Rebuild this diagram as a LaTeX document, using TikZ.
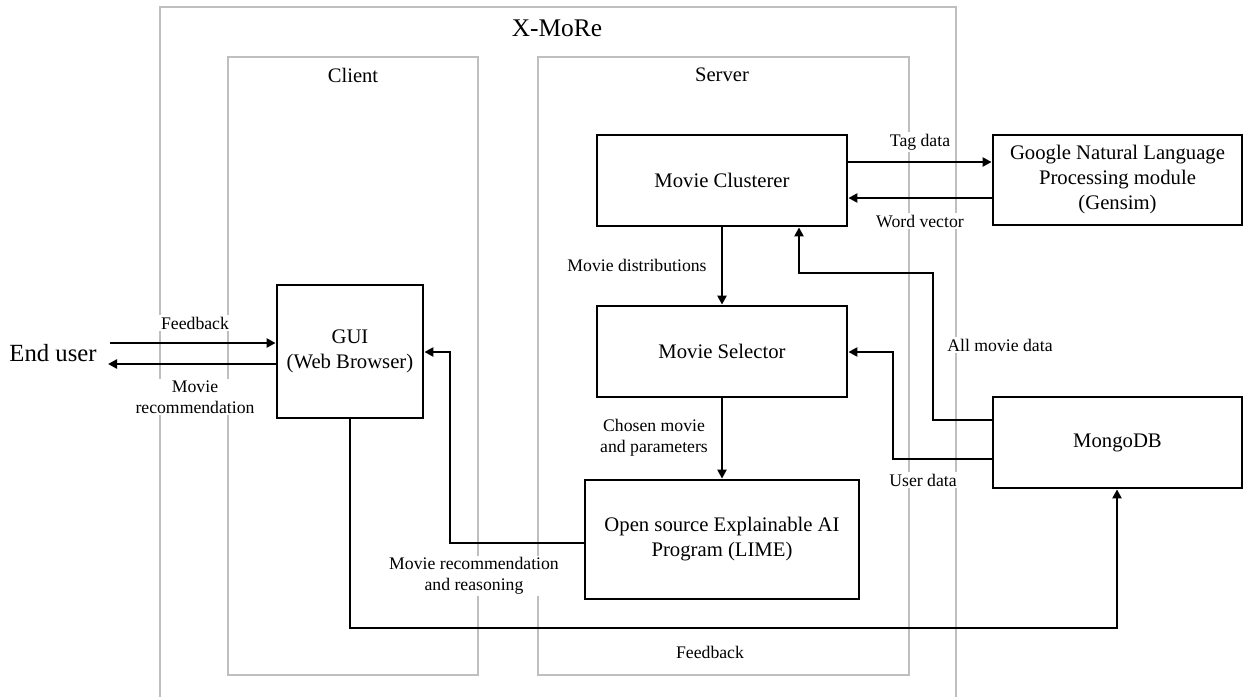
\documentclass[tikz,border=0pt]{standalone}
\usepackage{fontspec}
\setmainfont{Liberation Serif}
\usetikzlibrary{arrows.meta}
\begin{document}
\begin{tikzpicture}[x=1pt,y=-1pt,
  grp/.style={draw=black!25, line width=1.3pt},
  blk/.style={draw=black, line width=2.8pt, fill=white, align=center, inner sep=0pt, font=\fontsize{20.7}{25}\selectfont},
  arr/.style={line width=2.8pt, -{Triangle[length=9pt,width=9pt]}},
  lbl/.style={fill=white, inner sep=2pt, align=center, font=\fontsize{17.7}{20.5}\selectfont},
  ttl/.style={font=\fontsize{20.6}{24}\selectfont}]
\useasboundingbox (0,0) rectangle (1247,697);
% groups
\draw[grp] (160,697) -- (160,7) -- (956,7) -- (956,697);
\draw[grp] (228,57) rectangle (478,675);
\draw[grp] (538,57) rectangle (909,675);
\node[font=\fontsize{25.4}{30}\selectfont] (xmore) at (557,28) {X-MoRe};
\node[ttl] (client) at (353,75) {Client};
\node[ttl] (server) at (722,75) {Server};
\node[font=\fontsize{24.7}{30}\selectfont] (eu) at (53,353) {End user};
% boxes
\node[blk, minimum width=146pt, minimum height=133pt] (gui) at (350,351.5) {GUI\\(Web Browser)};
\node[blk, minimum width=250pt, minimum height=91pt] (clus) at (722,180.5) {Movie Clusterer};
\node[blk, minimum width=249pt, minimum height=90pt] (nlp) at (1117.5,180) {Google Natural Language\\Processing module\\(Gensim)};
\node[blk, minimum width=250pt, minimum height=91pt] (sel) at (722,351.5) {Movie Selector};
\node[blk, minimum width=249pt, minimum height=91pt] (mongo) at (1117.5,442.5) {MongoDB};
\node[blk, minimum width=274pt, minimum height=119pt] (lime) at (722,539.5) {Open source Explainable AI\\Program (LIME)};
% connectors
\coordinate (euin) at (110,343);
\coordinate (euout) at (108,364);
\draw[arr] (euin) -- (euin -| gui.west);
\draw[arr] (euout -| gui.west) -- (euout);
\coordinate (tag) at (0,162);
\coordinate (wv) at (0,198);
\draw[arr] (clus.east |- tag) -- (nlp.west |- tag);
\draw[arr] (nlp.west |- wv) -- (clus.east |- wv);
\draw[arr] (clus.south) -- (sel.north);
\coordinate (am1) at (933,420);
\coordinate (am2) at (799,273);
\draw[arr] (mongo.west |- am1) -- (am1) |- (am2) -- (am2 |- clus.south);
\coordinate (ud1) at (893,459);
\coordinate (ud2) at (893,352);
\draw[arr] (mongo.west |- ud1) -- (ud1) -- (ud2) -- (sel.east |- ud2);
\draw[arr] (sel.south) -- (lime.north);
\coordinate (mr1) at (450,543);
\coordinate (mr2) at (450,352);
\draw[arr] (lime.west |- mr1) -- (mr1) -- (mr2) -- (gui.east |- mr2);
\coordinate (fb1) at (350,628);
\coordinate (fb2) at (1117,628);
\draw[arr] (gui.south) -- (fb1) -- (fb2) -- (fb2 |- mongo.south);
% labels
\node[lbl] (lfb) at (195,323) {Feedback};
\node[lbl] (lmr) at (195,397) {Movie\\recommendation};
\node[lbl] (ltag) at (920,142) {Tag data};
\node[lbl] (lwv) at (920,221) {Word vector};
\node[lbl] (lmd) at (637,265) {Movie distributions};
\node[lbl] (lam) at (1000,345) {All movie data};
\node[lbl] (lud) at (923,480) {User data};
\node[lbl] (lcm) at (654,437.5) {Chosen movie\\and parameters};
\node[lbl] (lrr) at (474,576) {Movie recommendation\\and reasoning};
\node[lbl] (lfb2) at (710,652) {Feedback};
\end{tikzpicture}
\end{document}
